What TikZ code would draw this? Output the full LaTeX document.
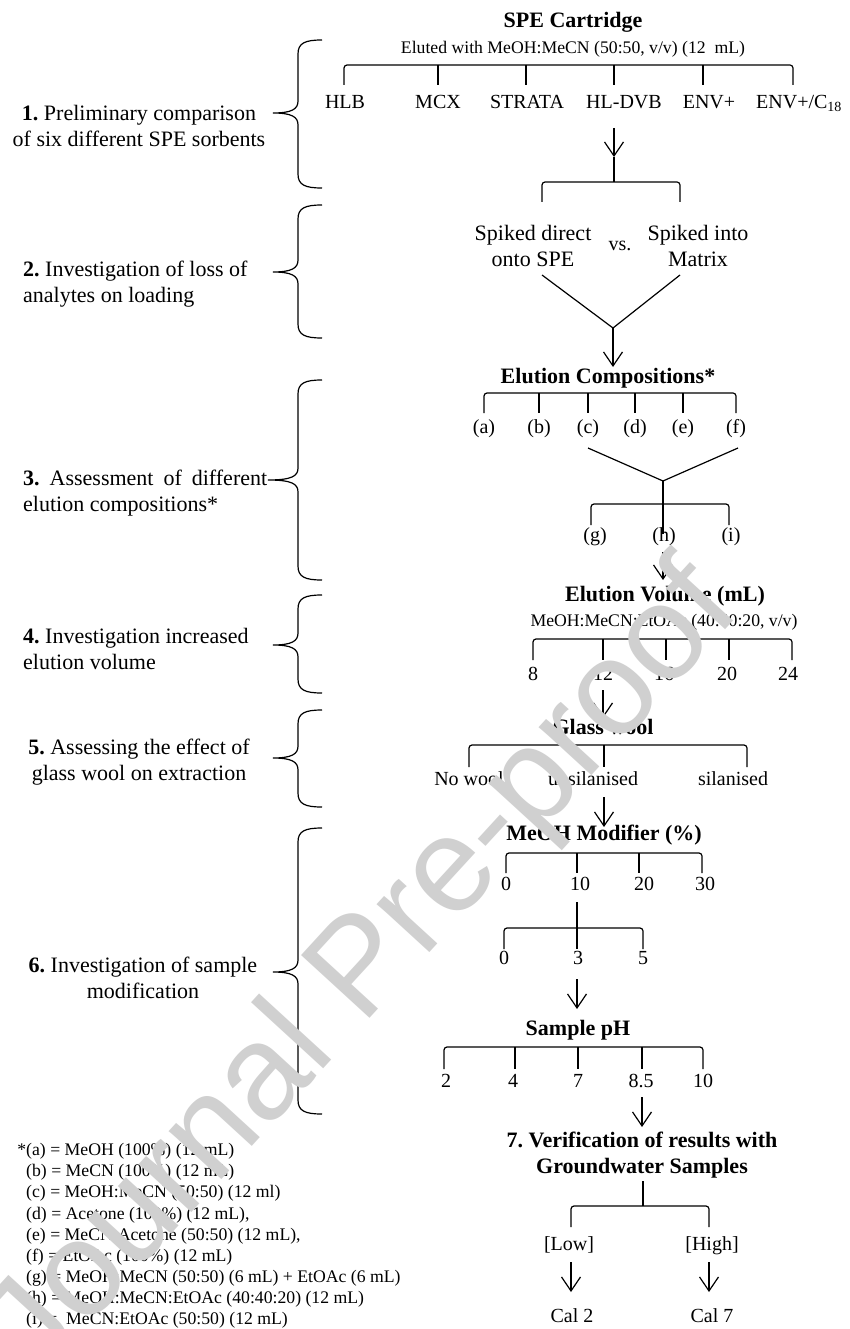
\documentclass[tikz,border=0pt]{standalone}
\usepackage{fontspec}
\setmainfont{Liberation Serif}
\newfontfamily\wmfont{Liberation Sans}
\usetikzlibrary{arrows.meta}
\frenchspacing
\definecolor{wmgray}{RGB}{208,208,208}
\tikzset{
  ln/.style={line width=1.2pt},
  arr/.style={line width=1.2pt,-{Straight Barb[length=14pt,width=19pt]}},
  ttl/.style={font=\bfseries\fontsize{22}{26}\selectfont,inner sep=0pt,text height=0.66em,text depth=0pt},
  sub/.style={font=\fontsize{17.7}{21}\selectfont,inner sep=0pt,text height=0.66em,text depth=0pt},
  lbl/.style={font=\fontsize{20}{24}\selectfont,inner sep=0pt,text height=0.66em,text depth=0pt},
  big/.style={font=\fontsize{22}{26}\selectfont,inner sep=0pt,align=center},
  bigb/.style={font=\bfseries\fontsize{22}{26}\selectfont,inner sep=0pt,align=center},
  side/.style={font=\fontsize{22}{26.5}\selectfont,inner sep=0pt},
  fn/.style={font=\fontsize{17.7}{21.1}\selectfont,inner sep=0pt,anchor=base west},
  wm/.style={font=\wmfont\fontsize{135}{135}\selectfont,text=wmgray,inner sep=0pt}
}
% bracket: xleft, xright, ybar, ytick
\newcommand{\mybrk}[4]{\draw[ln,rounded corners=3pt] (#1,#4) -- (#1,#3) -- (#2,#3) -- (#2,#4);}
% brace: top, tip, bottom, tip x
\newcommand{\mybrace}[4]{\draw[ln] (322,#1) .. controls (305,#1) and (298,#1+3) .. (298,#1+14) -- (298,#2-12) .. controls (298,#2-4) and (292,#2) .. (#4,#2) .. controls (292,#2) and (298,#2+4) .. (298,#2+12) -- (298,#3-14) .. controls (298,#3-3) and (305,#3) .. (322,#3);}
\begin{document}
\begin{tikzpicture}[x=1pt,y=-1pt]
\useasboundingbox (0,0) rectangle (850,1329);
\fill[white] (0,0) rectangle (850,1329);

% ---------- Step 1 ----------
\node[ttl] (spe) at (573,24) {SPE Cartridge};
\node[sub] (elu) at (573,50) {Eluted with MeOH:MeCN (50:50, v/v) (12\ \ mL)};
\mybrk{344}{793}{65}{85}
\foreach \xx in {438,526,614,703} \draw[ln] (\xx,65) -- (\xx,85);
\node[lbl] (hlb) at (345,105) {HLB};
\node[lbl] (mcx) at (438,105) {MCX};
\node[lbl] (strata) at (527,105) {STRATA};
\node[lbl] (hldvb) at (624,105) {HL-DVB};
\node[lbl] (envp) at (709,105) {ENV+};
\node[lbl,anchor=west] (envc) at (756,105) {ENV+/C\textsubscript{18}};
\coordinate (a1s) at (614,128);
\coordinate (a1e) at (614,157);
\coordinate (b2c) at (614,182);
\draw[arr] (a1s) -- (a1e);
\draw[ln] (a1e) -- (b2c);

% ---------- Step 2 ----------
\mybrk{542}{680}{182}{202}
\node[big] (sd) at (533,246) {Spiked direct\\onto SPE};
\node[lbl] (vs) at (620,247) {vs.};
\node[big] (si) at (698,246) {Spiked into\\Matrix};
\coordinate (v1l) at (542,275);
\coordinate (v1r) at (680,275);
\coordinate (v1) at (613,328);
\coordinate (a2e) at (613,367);
\draw[ln] (v1l) -- (v1) -- (v1r);
\draw[arr] (v1) -- (a2e);

% ---------- Step 3 ----------
\node[ttl] (ec) at (608,380) {Elution Compositions*};
\mybrk{484}{736}{393}{413}
\foreach \xx in {539,588,635,683} \draw[ln] (\xx,393) -- (\xx,413);
\node[lbl] (ca) at (484,430) {(a)};
\node[lbl] (cb) at (539,430) {(b)};
\node[lbl] (cc) at (588,430) {(c)};
\node[lbl] (cd) at (635,430) {(d)};
\node[lbl] (ce) at (683,430) {(e)};
\node[lbl] (cf) at (736,430) {(f)};
\coordinate (v2l) at (588,448);
\coordinate (v2r) at (738,448);
\coordinate (v2) at (663,481);
\coordinate (v2d) at (663,534);
\draw[ln] (v2l) -- (v2) -- (v2r);
\draw[ln] (v2) -- (v2d);
\mybrk{591}{729}{504}{525}
\node[lbl] (cg) at (595,538) {(g)};
\node[lbl] (ch) at (664,538) {(h)};
\node[lbl] (ci) at (731,538) {(i)};
\coordinate (a3s) at (663,552);
\coordinate (a3e) at (663,580);
\draw[arr] (a3s) -- (a3e);

% ---------- Step 4 ----------
\node[ttl] (ev) at (665,598) {Elution Volume (mL)};
\node[sub] (evs) at (664,623) {MeOH:MeCN:EtOAc (40:40:20, v/v)};
\mybrk{533}{792}{639}{660}
\foreach \xx in {603,666,729} \draw[ln] (\xx,639) -- (\xx,660);
\node[lbl] (v8) at (533,677) {8};
\node[lbl] (v12) at (603,677) {12};
\node[lbl] (v16) at (664,677) {16};
\node[lbl] (v20) at (727,677) {20};
\node[lbl] (v24) at (788,677) {24};
\coordinate (a4s) at (603,690);
\coordinate (a4e) at (603,718);
\draw[arr] (a4s) -- (a4e);

% ---------- Step 5 ----------
\node[ttl] (gw) at (603,731) {Glass wool};
\mybrk{469}{747}{745}{767}
\draw[ln] (604,745) -- (604,767);
\node[lbl] (nw) at (469,782) {No wool};
\node[lbl] (uns) at (593,782) {unsilanised};
\node[lbl] (sil) at (733,782) {silanised};
\coordinate (a5s) at (604,797);
\coordinate (a5e) at (604,827);
\draw[arr] (a5s) -- (a5e);

% ---------- Step 6 ----------
\node[ttl] (mm) at (604,837) {MeOH Modifier (\%)};
\mybrk{506}{702}{853}{873}
\foreach \xx in {577,639} \draw[ln] (\xx,853) -- (\xx,873);
\node[lbl] (m0) at (506,887) {0};
\node[lbl] (m10) at (580,887) {10};
\node[lbl] (m20) at (644,887) {20};
\node[lbl] (m30) at (705,887) {30};
\coordinate (m10d) at (577,902);
\coordinate (m10e) at (577,949);
\draw[ln] (m10d) -- (m10e);
\mybrk{504}{643}{928}{949}
\node[lbl] (p0) at (504,961) {0};
\node[lbl] (p3) at (578,961) {3};
\node[lbl] (p5) at (643,961) {5};
\coordinate (a6s) at (577,979);
\coordinate (a6e) at (577,1009);
\draw[arr] (a6s) -- (a6e);
\node[ttl] (sph) at (578,1032) {Sample pH};
\mybrk{444}{703}{1047}{1069}
\foreach \xx in {515,578,642} \draw[ln] (\xx,1047) -- (\xx,1069);
\node[lbl] (h2) at (446,1084) {2};
\node[lbl] (h4) at (513,1084) {4};
\node[lbl] (h7) at (578,1084) {7};
\node[lbl] (h85) at (641,1084) {8.5};
\node[lbl] (h10) at (703,1084) {10};
\coordinate (a7s) at (642,1097);
\coordinate (a7e) at (642,1127);
\draw[arr] (a7s) -- (a7e);

% ---------- Step 7 ----------
\node[bigb] (ver) at (642,1155) {7. Verification of results with\\Groundwater Samples};
\coordinate (vd) at (643,1181);
\coordinate (vb) at (643,1206);
\draw[ln] (vd) -- (vb);
\mybrk{571}{709}{1206}{1227}
\node[lbl] (low) at (569,1247) {[Low]};
\node[lbl] (high) at (712,1247) {[High]};
\coordinate (a8s) at (571,1262);
\coordinate (a8e) at (571,1292);
\coordinate (a9s) at (709,1262);
\coordinate (a9e) at (709,1292);
\draw[arr] (a8s) -- (a8e);
\draw[arr] (a9s) -- (a9e);
\node[lbl] (cal2) at (572,1319) {Cal 2};
\node[lbl] (cal7) at (712,1319) {Cal 7};

% ---------- Braces and step labels ----------
\mybrace{40}{113}{188}{273}
\mybrace{205}{272}{338}{273}
\mybrace{380}{480}{580}{268}
\mybrace{595}{645}{693}{273}
\mybrace{710}{758}{807}{273}
\mybrace{828}{972}{1114}{273}
\node[side,align=center] (t1) at (139,126) {\textbf{1.} Preliminary comparison\\of six different SPE sorbents};
\node[side,align=left,anchor=west] (t2) at (23,284) {\textbf{2.} Investigation of loss of\\analytes on loading};
\node[side,align=left,anchor=west] (t3) at (23,493) {\makebox[244pt][s]{\textbf{3.} Assessment of different}\\elution compositions*};
\node[side,align=left,anchor=west] (t4) at (23,649) {\textbf{4.} Investigation increased\\elution volume};
\node[side,align=center] (t5) at (139,762) {\textbf{5.} Assessing the effect of\\glass wool on extraction};
\node[side,align=center] (t6) at (143,978) {\textbf{6.} Investigation of sample\\modification};

% ---------- Footnote ----------
\node[fn] (fa) at (26,1155) {\llap{*}(a) = MeOH (100\%) (12 mL)};
\node[fn] (fb) at (26,1176) {(b) = MeCN (100\%) (12 mL)};
\node[fn] (fc) at (26,1197) {(c) = MeOH:MeCN (50:50) (12 ml)};
\node[fn] (fd) at (26,1219) {(d) = Acetone (100\%) (12 mL),};
\node[fn] (fe) at (26,1240) {(e) = MeCN:Acetone (50:50) (12 mL),};
\node[fn] (ff) at (26,1261) {(f) = EtOAc (100\%) (12 mL)};
\node[fn] (fg) at (26,1282) {(g) = MeOH:MeCN (50:50) (6 mL) + EtOAc (6 mL)};
\node[fn] (fh) at (26,1303) {(h) = MeOH:MeCN:EtOAc (40:40:20) (12 mL)};
\node[fn] (fi) at (26,1324) {(i) =\ \ MeCN:EtOAc (50:50) (12 mL)};

% ---------- Watermark ----------
\node[wm,rotate=47.5] (wmk) at (365,972) {Journal Pre-proof};
\end{tikzpicture}
\end{document}
